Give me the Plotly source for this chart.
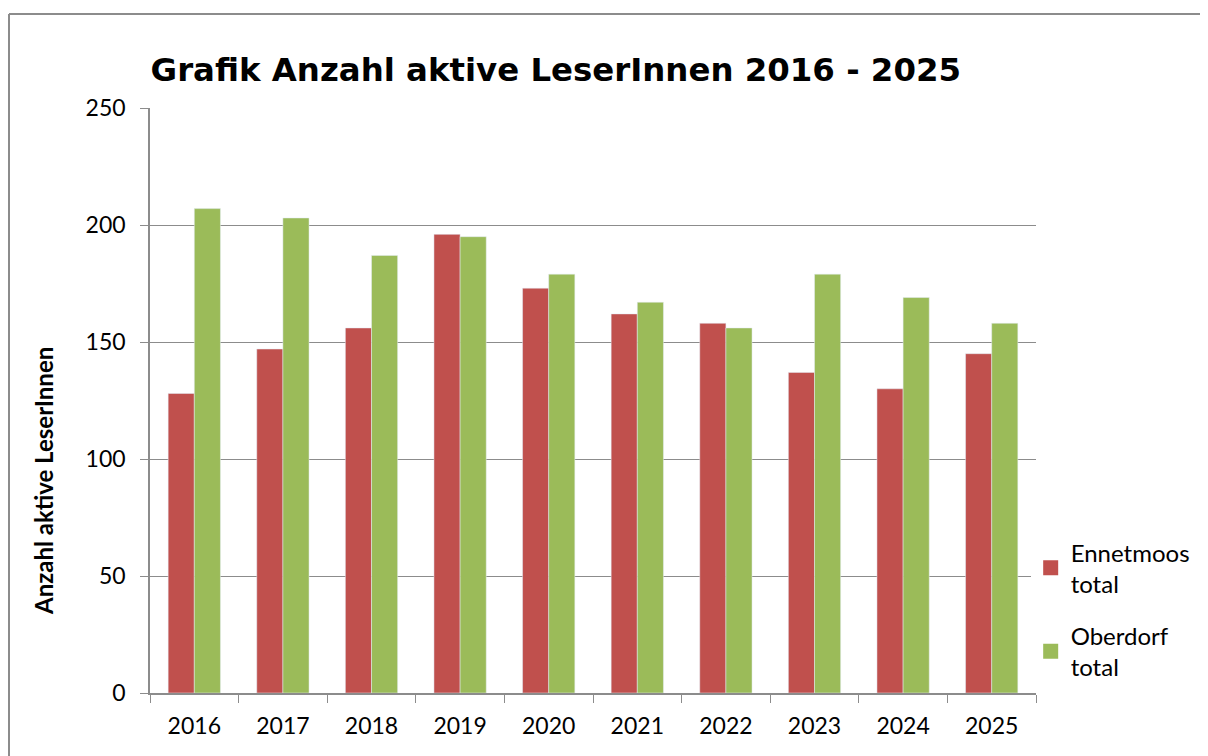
import plotly.graph_objects as go

years = ["2016", "2017", "2018", "2019", "2020", "2021", "2022", "2023", "2024", "2025"]
ennetmoos = [128, 147, 156, 196, 173, 162, 158, 137, 130, 145]
oberdorf = [207, 203, 187, 195, 179, 167, 156, 179, 169, 158]

series_names = ["Ennetmoos<br>total", "Oberdorf<br>total"]
series_colors = ["#C0504D", "#9BBB59"]

base_font = "Lato, Open Sans, sans-serif"
tick_font = dict(family=base_font, size=23, color="black")

fig = go.Figure()
for i, (vals, name, color) in enumerate(zip([ennetmoos, oberdorf], series_names, series_colors)):
    fig.add_trace(go.Bar(x=years, y=vals, name=name, marker_color=color, showlegend=False))
    # legend-only trace, to get the larger square swatch
    fig.add_trace(go.Scatter(
        x=[None], y=[None], mode="markers", name=name, legendgroup=f"g{i}",
        marker=dict(symbol="square", size=15, color=color),
    ))

# page body has an 8px margin, so the figure is shrunk and placed 8px up/left
fig.update_layout(
    width=1200,
    height=748,
    margin=dict(l=142, r=172, t=100, b=63),
    paper_bgcolor="white",
    plot_bgcolor="white",
    barmode="group",
    bargap=0.41,
    bargroupgap=0,
    title=dict(
        text="Grafik Anzahl aktive LeserInnen 2016 - 2025",
        font=dict(family="DejaVu Sans, Verdana, sans-serif", size=32.4, color="black", weight="bold"),
        xref="paper", x=0.458, xanchor="center",
        yref="container", y=1 - 62 / 748, yanchor="middle",
    ),
    legend=dict(
        x=0.994, xanchor="left", y=0.2785, yanchor="top",
        font=dict(family=base_font, size=24, color="black"),
        tracegroupgap=18,
    ),
    showlegend=True,
)

fig.update_yaxes(
    range=[0, 250], dtick=50,
    showgrid=True, gridcolor="#8c8c8c", gridwidth=1,
    showline=True, linecolor="#8c8c8c", linewidth=1.5,
    ticks="outside", ticklen=8, tickcolor="#8c8c8c",
    ticklabelstandoff=10,
    tickfont=tick_font,
    zeroline=False,
)
fig.update_xaxes(
    showline=True, linecolor="#8c8c8c", linewidth=1.5,
    ticks="outside", ticklen=8, tickcolor="#8c8c8c", tickson="boundaries",
    ticklabelstandoff=12,
    tickfont=tick_font,
)

# y-axis title sits below the plot centre in the reference
fig.add_annotation(
    text="<b>Anzahl aktive LeserInnen</b>", textangle=-90,
    xref="paper", yref="paper", x=(35 - 142) / 886, y=(685 - 473) / 585,
    xanchor="center", yanchor="middle", showarrow=False,
    font=dict(family=base_font, size=24, color="black"),
)

# outer chart frame: only the top and left edges are visible
frame_top = (685 - 6) / 585
frame_left = -141 / 886
fig.add_shape(type="line", xref="paper", yref="paper", x0=frame_left, x1=1.3, y0=frame_top, y1=frame_top,
              line=dict(color="#8c8c8c", width=2), layer="below")
fig.add_shape(type="line", xref="paper", yref="paper", x0=frame_left, x1=frame_left, y0=-0.3, y1=frame_top,
              line=dict(color="#8c8c8c", width=2), layer="below")

fig.write_html("out.html")
